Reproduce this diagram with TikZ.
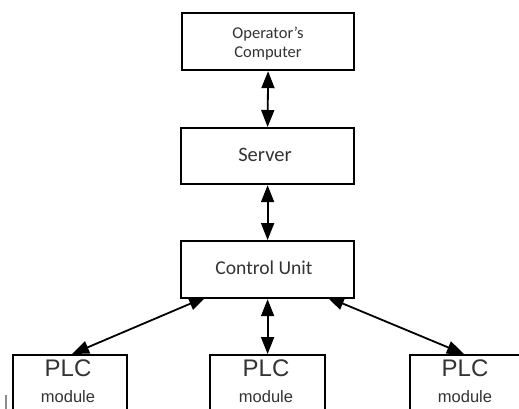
\documentclass[tikz,border=0pt]{standalone}
\usepackage{fontspec}
\setmainfont{Carlito}
\newfontfamily\arialf{Liberation Sans}
\usetikzlibrary{arrows.meta}
\begin{document}
\begin{tikzpicture}[x=1pt,y=-1pt,
  box/.style={draw=black,line width=2.2pt,fill=white,inner sep=0pt,anchor=north west},
  lnk/.style={line width=1.8pt,{Triangle[length=17pt,width=13pt]}-{Triangle[length=17pt,width=13pt]}},
  txt/.style={text=black!80,inner sep=0pt}]
\useasboundingbox (0,0) rectangle (519,409);
\clip (0,0) rectangle (519,409);
% upper boxes
\node[box,minimum width=172pt,minimum height=57pt] (op) at (181,12) {};
\node[txt,align=center,font=\fontsize{16.5}{19}\selectfont] (opt) at (268,44) {Operator's\\Computer};
\node[box,minimum width=173pt,minimum height=56pt] (srv) at (180,127) {};
\node[txt,font=\fontsize{20.5}{22}\selectfont] (srvt) at (265,155) {Server};
\node[box,minimum width=173pt,minimum height=57pt] (cu) at (180,240) {};
\node[txt,font=\fontsize{19.6}{22}\selectfont] (cut) at (264,268) {Control Unit};
% PLC boxes (cut off by the lower edge)
\node[box,minimum width=114pt,minimum height=70pt] (p1) at (12,354) {};
\node[box,minimum width=115pt,minimum height=70pt] (p2) at (209,354) {};
\node[box,minimum width=114pt,minimum height=70pt] (p3) at (409,354) {};
\foreach \p/\x in {p1/68,p2/266,p3/465}{
  \node[txt,font=\arialf\fontsize{24}{26}\selectfont] (\p a) at (\x,368) {PLC};
  \node[txt,font=\arialf\fontsize{16.5}{18}\selectfont] (\p b) at (\x,397) {module};
}
% connectors
\coordinate (c1) at (206,297);
\coordinate (c3) at (327,297);
\coordinate (q1) at (72,354);
\coordinate (q3) at (464,354);
\draw[lnk] (op.south) -- (srv.north);
\draw[lnk] (srv.south) -- (cu.north);
\draw[lnk] (cu.south) -- (p2.north);
\draw[lnk] (c1) -- (q1);
\draw[lnk] (c3) -- (q3);
% small mark at the left edge
\coordinate (m1) at (6,395);
\coordinate (m2) at (6,409);
\draw[black!45,line width=1.2pt] (m1) -- (m2);
\end{tikzpicture}
\end{document}
